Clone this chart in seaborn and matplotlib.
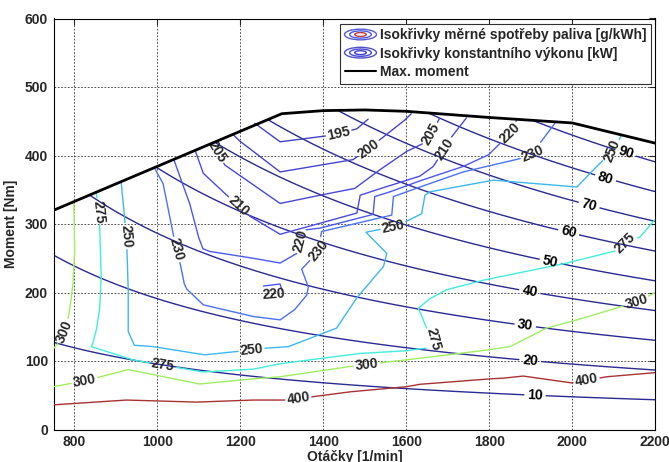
import numpy as np
import matplotlib
matplotlib.use("Agg")
import matplotlib.pyplot as plt
import seaborn as sns
from matplotlib.legend_handler import HandlerBase
from matplotlib.patches import Ellipse
from matplotlib.lines import Line2D

# ---------------- data ----------------
rpm_max = [750, 1300, 1400, 1500, 1600, 1700, 1800, 1900, 2000, 2200]
tq_max = [320, 461, 465.5, 466.5, 464.5, 460, 455.5, 451.5, 447.5, 418]

power_levels = [10, 20, 30, 40, 50, 60, 70, 80, 90]
power_label_rpm = [1910, 1898, 1886, 1897, 1946, 1990, 2039, 2079, 2125]
power_label_nm = [48, 97.5, 149, 199, 243, 285, 324, 365, 397]

c195_rpm = [1235, 1296, 1412, 1450, 1481, 1508]
c195_nm = [447, 420, 429, 434, 439, 453]

c200_rpm = [1182, 1199, 1296, 1472, 1509, 1597, 1612]
c200_nm = [431, 421, 376, 394, 410, 452, 461]

c205_rpm = [1130, 1163, 1296, 1392, 1476, 1536, 1601, 1649, 1665, 1680]
c205_nm = [418, 386, 330, 342, 352, 379, 406, 420, 437, 454]

c210_rpm = [1091, 1111, 1196, 1224, 1296, 1481, 1489, 1529, 1633, 1665, 1693, 1709, 1745]
c210_nm = [408, 374, 326, 311, 285, 316, 342, 350, 370, 384, 410, 427, 455]

c220_rpm = [1040, 1060, 1078, 1100, 1110, 1126, 1231, 1296, 1336, 1344, 1352, 1392,
            1520, 1524, 1561, 1633, 1737, 1798, 1850, 1866]
c220_nm = [394, 360, 330, 280, 264, 260, 250, 243, 257, 276, 291, 294,
           314, 340, 347, 363, 384, 401, 432, 452]

c220i_rpm = [1256, 1296, 1300]
c220i_nm = [209.5, 212.4, 203.7]

c230_rpm = [994, 1014, 1030, 1045, 1056, 1065, 1071, 1111, 1231, 1296, 1331, 1360, 1364,
            1348, 1368, 1388, 1396, 1565, 1569, 1633, 1737, 1878, 1905, 1922, 1958]
c230_nm = [381, 359, 311, 265, 240, 213, 205, 182, 165, 160, 175, 196, 208,
           234, 247, 262, 289, 313, 340, 354, 376, 396, 403, 418, 447]

c250_rpm = [913, 921, 927, 930, 930, 945, 990, 1114, 1194, 1227, 1256, 1316, 1432, 1480,
            1545, 1553, 1503, 1569, 1597, 1637, 1645, 1657, 1810, 2011, 2059, 2099, 2119]
c250_nm = [362, 311, 262, 204, 143, 123, 121, 109, 114, 116, 118.5, 121, 148, 191.5,
           238, 257, 288, 296, 303, 315, 342, 347, 364, 354, 384, 408, 430]

c275_rpm = [853, 861, 865, 861, 853, 845, 841, 942, 1014, 1110, 1231, 1296, 1488, 1601,
            1650, 1668, 1660, 1649, 1629, 1657, 1697, 1786, 1866, 1987, 2099, 2107, 2127,
            2163, 2200]
c275_nm = [347, 301, 223, 175, 145, 126, 121, 101.5, 94, 84, 88, 96, 111, 115,
           119, 126, 140, 148, 177, 191, 204, 218, 228, 243, 260, 260, 272,
           281, 307]

c300a_rpm = [799, 801, 797, 790, 783, 773, 760, 750]
c300a_nm = [333, 262, 213, 180, 155, 140, 125, 118]

c300b_rpm = [750, 825, 930, 1102, 1231, 1296, 1488, 1633, 1794, 1850, 1938, 2011, 2155, 2200]
c300b_nm = [62.5, 71, 87.5, 66.4, 74, 77, 94, 104, 116, 121, 148, 160, 186, 200]

c400_rpm = [750, 926, 1095, 1231, 1320, 1376, 1465, 1601, 1633, 1804, 1834, 1882, 1999,
            2083, 2200]
c400_nm = [36, 43, 40, 43, 43, 48, 55, 62.5, 66, 74, 75, 78, 68, 77, 83]

# ---------------- style ----------------
sns.set_style("white")
plt.rcParams["font.family"] = ["Liberation Sans", "DejaVu Sans"]

LABEL_SIZE = 10
power_color = "#2a2a94"
bsfc_style = [
    (195, c195_rpm, c195_nm, "#4242c4", [(1437, 432)]),
    (200, c200_rpm, c200_nm, "#4444cc", [(1509, 410)]),
    (205, c205_rpm, c205_nm, "#4848d6", [(1142, 405), (1657, 432)]),
    (210, c210_rpm, c210_nm, "#4a4ae2", [(1196, 326), (1693, 410)]),
    (220, c220_rpm, c220_nm, "#4a5aee", [(1344, 276), (1850, 432)]),
    (230, c230_rpm, c230_nm, "#4a72f4", [(1042, 262), (1388, 262), (1905, 403)]),
    (250, c250_rpm, c250_nm, "#3cb8f0", [(918, 282), (1227, 116), (1569, 296), (2099, 405, 68)]),
    (275, c275_rpm, c275_nm, "#40eedc", [(858, 318), (1014, 94), (1663, 131, -75), (2127, 272)]),
    (300, c300a_rpm, c300a_nm, "#a0ee60", [(775, 143)]),
    (300, c300b_rpm, c300b_nm, "#a0ee60", [(825, 70), (1505, 93), (2155, 184)]),
    (400, c400_rpm, c400_nm, "#a83232", [(1340, 45), (2035, 70)]),
]

W, H = 669, 462
fig = plt.figure(figsize=(W / 100, H / 100), dpi=100)
ax = fig.add_axes([53.5 / W, 1 - 429.5 / H, (655.3 - 53.5) / W, (429.5 - 18.5) / H])
ax.set_xlim(750, 2200)
ax.set_ylim(0, 600)
ax.set_xticks(range(800, 2201, 200))
ax.set_yticks(range(0, 601, 100))
ax.grid(True, color="#303030", linestyle=(0, (2, 2)), linewidth=0.6)
ax.tick_params(direction="in", top=True, right=True, length=4, width=0.8,
               labelsize=10, pad=4)
for lab in ax.get_xticklabels() + ax.get_yticklabels():
    lab.set_fontweight("bold")
for sp in ax.spines.values():
    sp.set_color("black")
    sp.set_linewidth(0.8)
ax.set_xlabel("Otáčky [1/min]", fontsize=10, fontweight="bold", labelpad=1)
ax.set_ylabel("Moment [Nm]", fontsize=10, fontweight="bold", labelpad=5)

renderer = fig.canvas.get_renderer()

# ---------------- power iso-lines (P = M * n / 9549) ----------------
n_grid = np.linspace(750, 2200, 700)
m_grid = np.linspace(0, 600, 700)
N, M = np.meshgrid(n_grid, m_grid)
P = N * M / 9549.3
Mlim = np.interp(N, rpm_max, tq_max)
P = np.ma.masked_where(M > Mlim, P)
cs = ax.contour(N, M, P, levels=power_levels, colors=power_color, linewidths=1.0)
plabels = ax.clabel(cs, fmt="%d", manual=list(zip(power_label_rpm, power_label_nm)),
                    inline=True, inline_spacing=3, fontsize=LABEL_SIZE, colors="k")
for t in plabels:
    t.set_fontweight("bold")


# ---------------- BSFC iso-lines with inline labels ----------------
def draw_labeled(xs, ys, color, level, labels):
    xy = np.column_stack([xs, ys]).astype(float)
    pts = ax.transData.transform(xy)
    d = np.diff(pts, axis=0)
    L = np.hypot(d[:, 0], d[:, 1])
    s = np.concatenate([[0.0], np.cumsum(L)])
    gaps = []
    for lab in labels:
        p = ax.transData.transform((lab[0], lab[1]))
        best = None
        for i in range(len(d)):
            if L[i] == 0:
                continue
            t = np.clip(np.dot(p - pts[i], d[i]) / L[i] ** 2, 0, 1)
            q = pts[i] + t * d[i]
            dist = np.hypot(*(p - q))
            if best is None or dist < best[0]:
                best = (dist, i, t, q)
        _, i, t, q = best
        s0 = s[i] + t * L[i]
        ang = np.degrees(np.arctan2(d[i][1], d[i][0])) if len(lab) < 3 else lab[2]
        ang = ((ang + 90) % 180) - 90
        qd = ax.transData.inverted().transform(q)
        txt = ax.text(qd[0], qd[1], str(level), fontsize=LABEL_SIZE, fontweight="bold",
                      ha="center", va="center", rotation=0, rotation_mode="anchor",
                      zorder=5)
        w = txt.get_window_extent(renderer).width
        txt.set_rotation(ang)
        gaps.append((s0 - w / 2 - 2, s0 + w / 2 + 2))

    def pt_at(sv):
        k = int(np.searchsorted(s, sv, side="right") - 1)
        k = min(max(k, 0), len(d) - 1)
        tt = (sv - s[k]) / L[k] if L[k] > 0 else 0.0
        return pts[k] + tt * d[k]

    pieces = []
    cur = 0.0
    for a, b in sorted(gaps):
        if a > cur:
            pieces.append((cur, a))
        cur = max(cur, b)
    if cur < s[-1]:
        pieces.append((cur, s[-1]))
    inv = ax.transData.inverted()
    for a, b in pieces:
        seg = [pt_at(a)] + [pts[k] for k in range(len(s)) if a < s[k] < b] + [pt_at(b)]
        seg = inv.transform(np.array(seg))
        ax.plot(seg[:, 0], seg[:, 1], color=color, lw=1.0, zorder=3,
                solid_joinstyle="miter")


for level, xs, ys, col, labs in bsfc_style:
    draw_labeled(xs, ys, col, level, labs)

# small 220 island
ax.plot(c220i_rpm, c220i_nm, color="#4a5aee", lw=1.0, zorder=3)
ax.text(1280, 198, "220", fontsize=LABEL_SIZE, fontweight="bold", ha="center", va="center",
        rotation=4, rotation_mode="anchor", zorder=5)

# max torque curve
sns.lineplot(x=rpm_max, y=tq_max, color="black", lw=2, ax=ax, sort=False,
             estimator=None, legend=False, zorder=6)


# ---------------- legend ----------------
class ContourIcon:
    def __init__(self, colors):
        self.colors = colors


class HandlerContour(HandlerBase):
    def create_artists(self, legend, orig_handle, xdescent, ydescent, width, height,
                       fontsize, trans):
        cx = 0.5 * width - xdescent
        cy = 0.5 * height - ydescent
        arts = []
        for k, c in enumerate(orig_handle.colors):
            f = [1.0, 0.68, 0.36][k]
            e = Ellipse((cx, cy), width * f, height * 1.1 * f, fill=False,
                        edgecolor=c, lw=1.0, transform=trans)
            arts.append(e)
        return arts


icon1 = ContourIcon(["#5a5ad0", "#4a5af0", "#c03a3a"])
icon2 = ContourIcon(["#5050c4", "#4848d8", "#3c3cd0"])
line3 = Line2D([], [], color="black", lw=1.5)
leg = ax.legend([icon1, icon2, line3],
                ["Isokřivky měrné spotřeby paliva [g/kWh]",
                 "Isokřivky konstantního výkonu [kW]",
                 "Max. moment"],
                handler_map={ContourIcon: HandlerContour()},
                loc="upper right", bbox_to_anchor=(1 - 4 / 602, 1 - 5 / 411),
                borderaxespad=0, fancybox=False, framealpha=1, edgecolor="#303030",
                prop={"weight": "bold", "size": 10}, handlelength=2.3,
                handletextpad=0.25, labelspacing=0.3, borderpad=0.35)
leg.get_frame().set_linewidth(0.8)
leg.set_zorder(10)

fig.savefig("out.png", dpi=100)
